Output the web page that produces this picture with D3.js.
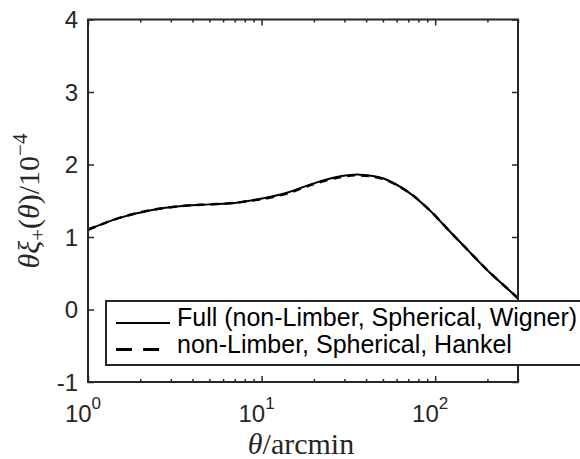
<!DOCTYPE html>
<html>
<head>
<meta charset="utf-8">
<style>
  body { margin: 0; background: #fff; }
  text { fill: #262626; font-family: "Liberation Sans", Arial, sans-serif; }
  .frame { fill: none; stroke: #262626; stroke-width: 2px; }
  .tick line { stroke: #262626; stroke-width: 1.5px; }
  .domain { display: none; }
</style>
</head>
<body>
<script src="https://cdn.jsdelivr.net/npm/d3@7"></script>
<script>
// theta in arcmin
var thetaFull = [1, 1.5, 2.3, 3.6, 5, 7, 8.5, 10, 14, 20, 29, 37, 50, 70, 92, 120, 157, 204, 266, 300];
var xiFull    = [1.10, 1.26, 1.37, 1.43, 1.45, 1.47, 1.50, 1.53, 1.61, 1.74, 1.84, 1.86, 1.81, 1.62, 1.38, 1.09, 0.80, 0.52, 0.27, 0.155];
var thetaHankel = [1, 1.5, 2.3, 3.6, 5, 7, 8.5, 10, 14, 20, 29, 37, 50, 70, 92, 120, 157, 204, 266, 300];
var xiHankel    = [1.10, 1.26, 1.37, 1.43, 1.45, 1.47, 1.50, 1.52, 1.60, 1.73, 1.83, 1.85, 1.80, 1.62, 1.38, 1.09, 0.80, 0.52, 0.27, 0.155];
var yTicks = [-1, 0, 1, 2, 3, 4];
var xMajor = [1, 10, 100];
var xExp = ["0", "1", "2"];
var legendLabels = ["Full (non-Limber, Spherical, Wigner)", "non-Limber, Spherical, Hankel"];

var width = 580, height = 459;
var pL = 88, pR = 518, pT = 19.5, pB = 382;

var svg = d3.select("body").append("svg")
    .attr("width", width)
    .attr("height", height);

var x = d3.scaleLog().domain([1, 300]).range([pL, pR]);
var y = d3.scaleLinear().domain([-1, 4]).range([pB, pT]);

var xMinor = [];
[1, 10, 100].forEach(function (d) {
    for (var k = 2; k <= 9; k++) if (d * k <= 300) xMinor.push(d * k);
});

// ticks pointing inward on all four sides
svg.append("g").attr("transform", "translate(0," + pB + ")")
    .call(d3.axisBottom(x).tickValues(xMajor).tickSize(-6).tickFormat(""));
svg.append("g").attr("transform", "translate(0," + pB + ")")
    .call(d3.axisBottom(x).tickValues(xMinor).tickSize(-3).tickFormat(""));
svg.append("g").attr("transform", "translate(0," + pT + ")")
    .call(d3.axisTop(x).tickValues(xMajor).tickSize(-6).tickFormat(""));
svg.append("g").attr("transform", "translate(0," + pT + ")")
    .call(d3.axisTop(x).tickValues(xMinor).tickSize(-3).tickFormat(""));
svg.append("g").attr("transform", "translate(" + pL + ",0)")
    .call(d3.axisLeft(y).tickValues(yTicks).tickSize(-6).tickFormat(""));
svg.append("g").attr("transform", "translate(" + pR + ",0)")
    .call(d3.axisRight(y).tickValues(yTicks).tickSize(-6).tickFormat(""));

// y tick labels
svg.selectAll(".ylab").data(yTicks).enter().append("text")
    .attr("x", pL - 10)
    .attr("y", function (d) { return y(d); })
    .attr("dy", "0.36em")
    .attr("text-anchor", "end")
    .style("font-size", "24px")
    .text(function (d) { return d; });

// x tick labels 10^n
var xl = svg.selectAll(".xlab").data(xMajor).enter().append("text")
    .attr("x", function (d) { return x(d) - 5; })
    .attr("y", 421.5)
    .attr("text-anchor", "middle")
    .style("font-size", "24px");
xl.append("tspan").text("10");
xl.append("tspan").attr("dy", -13).style("font-size", "17px")
    .text(function (d, i) { return xExp[i]; });

// curves
var line = d3.line()
    .x(function (d) { return x(d[0]); })
    .y(function (d) { return y(d[1]); })
    .curve(d3.curveCatmullRom);

svg.append("path")
    .datum(d3.zip(thetaFull, xiFull))
    .attr("d", line)
    .attr("fill", "none")
    .attr("stroke", "#000")
    .attr("stroke-width", 2);

svg.append("path")
    .datum(d3.zip(thetaHankel, xiHankel))
    .attr("d", line)
    .attr("fill", "none")
    .attr("stroke", "#000")
    .attr("stroke-width", 2.5)
    .attr("stroke-dasharray", "8,6");

// frame
svg.append("rect").attr("class", "frame")
    .attr("x", pL).attr("y", pT)
    .attr("width", pR - pL).attr("height", pB - pT);

// legend
var lg = svg.append("g");
lg.append("rect")
    .attr("x", 106).attr("y", 301)
    .attr("width", 490).attr("height", 64)
    .attr("fill", "#fff")
    .attr("stroke", "#262626")
    .attr("stroke-width", 2);
lg.append("line").attr("x1", 116).attr("x2", 170).attr("y1", 323).attr("y2", 323)
    .attr("stroke", "#000").attr("stroke-width", 2);
lg.append("line").attr("x1", 116).attr("x2", 166).attr("y1", 349.5).attr("y2", 349.5)
    .attr("stroke", "#000").attr("stroke-width", 3).attr("stroke-dasharray", "16,11");
lg.selectAll(".lt").data(legendLabels).enter().append("text")
    .attr("x", 177)
    .attr("y", function (d, i) { return 326 + i * 27; })
    .style("font-size", "25px")
    .style("fill", "#000")
    .text(function (d) { return d; });

// axis labels
var xt = svg.append("text")
    .attr("x", 301).attr("y", 454)
    .attr("text-anchor", "middle")
    .style("font-family", "'Liberation Serif', serif")
    .style("font-size", "30px");
xt.append("tspan").style("font-style", "italic").text("θ");
xt.append("tspan").text("/arcmin");

var yt = svg.append("text")
    .attr("transform", "translate(39,201) rotate(-90)")
    .attr("text-anchor", "middle")
    .style("font-family", "'Liberation Serif', serif")
    .style("font-size", "30px");
yt.append("tspan").style("font-style", "italic").text("θξ");
yt.append("tspan").attr("dy", 6).style("font-size", "21px").text("+");
yt.append("tspan").attr("dy", -6).text("(");
yt.append("tspan").style("font-style", "italic").text("θ");
yt.append("tspan").text(")/10");
yt.append("tspan").attr("dy", -12).style("font-size", "21px").text("−4");
</script>
</body>
</html>
